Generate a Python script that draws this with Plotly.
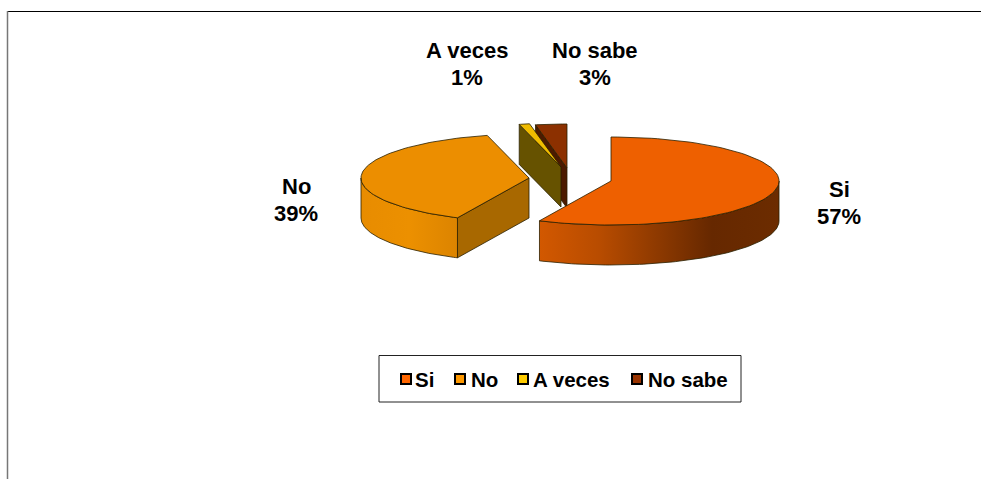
import numpy as np
import plotly.graph_objects as go

categories = ["Si", "No", "A veces", "No sabe"]
values = [57, 39, 1, 3]
top_colors = ["#EE6000", "#EC8E00", "#F0BC00", "#8C3000"]
side_colors = ["#A84400", "#A86800", "#665200", "#4C1A00"]
legend_colors = ["#FF6600", "#FF9900", "#FFCC00", "#993300"]

# Layout constants (pixel-like axis units)
apexes = [(611, 181), (529, 178), (561, 167), (567, 168)]
RX, RY, DEPTH = 168, 44, 40
label_pos = [(839, 202.5), (296, 199.5), (467, 63.5), (595, 63.5)]
LINE_GAP = 13.5
legend_x = [406, 460, 523, 637]
legend_text_x = [415, 471, 533, 647.5]
EDGE = "#2A2000"

total = sum(values)
ends = np.cumsum(values) / total * 360
starts = np.concatenate([[0], ends[:-1]])


def rim(i, a0, a1, dz=0.0):
    t = np.radians(np.linspace(a0, a1, 90))
    ax, ay = apexes[i]
    return ax + RX * np.sin(t), ay - RY * np.cos(t) + dz


def poly(xs, ys, color=None, gradient=None):
    kw = dict(fillgradient=gradient) if gradient else dict(fillcolor=color)
    return go.Scatter(x=list(xs), y=list(ys), mode="lines", fill="toself",
                      line=dict(color=EDGE, width=0.8), hoverinfo="skip",
                      showlegend=False, **kw)


def side_face(i, angle):
    ax, ay = apexes[i]
    rx, ry = rim(i, angle, angle)
    return poly([ax, rx[0], rx[0], ax, ax], [ay, ry[0], ry[0] + DEPTH, ay + DEPTH, ay], side_colors[i])


def top_face(i):
    ax, ay = apexes[i]
    rx, ry = rim(i, starts[i], ends[i])
    return poly(np.r_[ax, rx, ax], np.r_[ay, ry, ay], top_colors[i])


def wall(i, a0, a1, stops):
    x1, y1 = rim(i, a0, a1)
    x2, y2 = rim(i, a1, a0, DEPTH)
    grad = dict(type="horizontal", colorscale=stops)
    return poly(np.r_[x1, x2, x1[0]], np.r_[y1, y2, y1[0]], gradient=grad)


fig = go.Figure()
# back to front
fig.add_trace(side_face(3, starts[3]))
fig.add_trace(top_face(3))
fig.add_trace(side_face(2, starts[2]))
fig.add_trace(top_face(2))
fig.add_trace(side_face(1, starts[1]))
fig.add_trace(wall(1, starts[1], 270, [[0, "#E88C00"], [0.5, "#EC9000"], [1, "#DC8400"]]))
fig.add_trace(top_face(1))
fig.add_trace(wall(0, 90, ends[0], [[0, "#D25800"], [0.25, "#B84C00"],
                                     [0.72, "#662800"], [1, "#6C2C00"]]))
fig.add_trace(top_face(0))

# legend row
for name, col, lx, tx in zip(categories, legend_colors, legend_x, legend_text_x):
    fig.add_trace(go.Scatter(
        x=[lx], y=[379], mode="markers",
        marker=dict(symbol="square", size=10, color=col, line=dict(color="black", width=2)),
        hoverinfo="skip", showlegend=False))
    fig.add_annotation(x=tx, y=379.5, text=f"<b>{name}</b>", showarrow=False, xanchor="left",
                       xshift=-2, font=dict(family="Liberation Sans", size=20.5, color="black"))

for name, val, (lx, ly) in zip(categories, values, label_pos):
    for line, dy in ((name, -LINE_GAP), (f"{round(val / total * 100)}%", LINE_GAP)):
        fig.add_annotation(x=lx, y=ly + dy, text=f"<b>{line}</b>", showarrow=False,
                           font=dict(family="Liberation Sans", size=22, color="black"))

fig.update_layout(
    width=981, height=479, margin=dict(l=0, r=0, t=0, b=0),
    paper_bgcolor="white", plot_bgcolor="white", showlegend=False,
    xaxis=dict(range=[0, 981], visible=False, fixedrange=True),
    yaxis=dict(range=[479, 0], visible=False, fixedrange=True),
    shapes=[
        dict(type="line", x0=7, x1=981, y0=11.5, y1=11.5, line=dict(color="black", width=1.2)),
        dict(type="line", x0=7.5, x1=7.5, y0=11, y1=479, line=dict(color="#777777", width=1.5)),
        dict(type="rect", x0=379, x1=741, y0=355.5, y1=402, line=dict(color="#222222", width=1),
             fillcolor="white", layer="below"),
    ],
)
fig.write_html("out.html", post_script="document.body.style.margin='0';", config={"displayModeBar": False})
